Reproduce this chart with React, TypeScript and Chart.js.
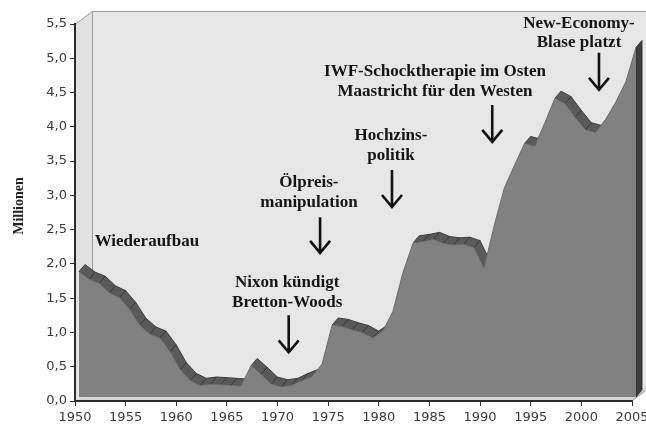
import { useEffect, useRef } from 'react';
import { Chart, registerables } from 'chart.js';

Chart.register(...registerables);

// ---- data ----
const years = [
  1950, 1951, 1952, 1953, 1954, 1955, 1956, 1957, 1958, 1959,
  1960, 1961, 1962, 1963, 1964, 1965, 1966, 1967, 1968, 1969,
  1970, 1971, 1972, 1973, 1974, 1975, 1976, 1977, 1978, 1979,
  1980, 1981, 1982, 1983, 1984, 1985, 1986, 1987, 1988, 1989,
  1990, 1991, 1992, 1993, 1994, 1995, 1996, 1997, 1998, 1999,
  2000, 2001, 2002, 2003, 2004, 2005,
];
const unemployedMillions = [
  1.83, 1.72, 1.66, 1.52, 1.45, 1.28, 1.05, 0.92, 0.86, 0.66,
  0.40, 0.24, 0.17, 0.19, 0.18, 0.17, 0.16, 0.46, 0.33, 0.19,
  0.15, 0.17, 0.24, 0.30, 0.48, 1.05, 1.03, 0.98, 0.94, 0.86,
  0.96, 1.25, 1.82, 2.25, 2.27, 2.30, 2.24, 2.22, 2.23, 2.18,
  1.88, 2.50, 3.05, 3.38, 3.70, 3.66, 4.00, 4.36, 4.28, 4.08,
  3.90, 3.86, 4.05, 4.30, 4.60, 5.10,
];
const xTickStep = 5;
const yTickStep = 0.5;
const yMax = 5.5;
const axisTitle = 'Millionen';

const annotationTexts = [
  ['Wiederaufbau'],
  ['Nixon kündigt', 'Bretton-Woods'],
  ['Ölpreis-', 'manipulation'],
  ['Hochzins-', 'politik'],
  ['IWF-Schocktherapie im Osten', 'Maastricht für den Westen'],
  ['New-Economy-', 'Blase platzt'],
];
// anchor (year, value) of first text line centre
const annotationAnchors = [
  [1957.1, 2.32],
  [1970.95, 1.72],
  [1973.1, 3.18],
  [1981.2, 3.87],
  [1985.55, 4.8],
  [1999.77, 5.51],
];
// arrows: year, from value, to value (null = no arrow)
const annotationArrows: (number[] | null)[] = [
  null,
  [1971.1, 1.25, 0.71],
  [1974.2, 2.68, 2.16],
  [1981.3, 3.37, 2.83],
  [1991.2, 4.32, 3.78],
  [2001.74, 5.08, 4.54],
];

// 3D geometry (pixels)
const WALL_DX = 17, WALL_DY = 13;
const SER_DX = 4, SER_DY = 4;
const RIB_DX = 6, RIB_DY = 7;

const threeDPlugin = {
  id: 'threeD',
  beforeDraw(chart: any) {
    const { ctx, chartArea } = chart;
    const { left, right, top, bottom } = chartArea;
    ctx.save();
    ctx.fillStyle = '#ffffff';
    ctx.fillRect(0, 0, chart.width, chart.height);
    // back wall
    ctx.fillStyle = '#e6e6e6';
    ctx.fillRect(left + WALL_DX, top - WALL_DY, right - left + 10, bottom - top);
    // side wall
    ctx.fillStyle = '#e1e1e1';
    ctx.beginPath();
    ctx.moveTo(left, top);
    ctx.lineTo(left + WALL_DX, top - WALL_DY);
    ctx.lineTo(left + WALL_DX, bottom - WALL_DY);
    ctx.lineTo(left, bottom);
    ctx.closePath();
    ctx.fill();
    // floor
    ctx.fillStyle = '#d4d4d4';
    ctx.beginPath();
    ctx.moveTo(left, bottom);
    ctx.lineTo(right, bottom);
    ctx.lineTo(right + WALL_DX, bottom - WALL_DY);
    ctx.lineTo(left + WALL_DX, bottom - WALL_DY);
    ctx.closePath();
    ctx.fill();
    // edges
    ctx.strokeStyle = '#9c9c9c';
    ctx.lineWidth = 1;
    ctx.beginPath();
    ctx.moveTo(left, top + 0.5);
    ctx.lineTo(left + WALL_DX + 0.5, top - WALL_DY + 0.5);
    ctx.lineTo(chart.width, top - WALL_DY + 0.5);
    ctx.moveTo(left + WALL_DX + 0.5, top - WALL_DY);
    ctx.lineTo(left + WALL_DX + 0.5, bottom - WALL_DY);
    ctx.moveTo(right, bottom);
    ctx.lineTo(right + WALL_DX, bottom - WALL_DY);
    ctx.stroke();
    ctx.restore();
  },
  beforeDatasetsDraw(chart: any) {
    const { ctx } = chart;
    const xs = chart.scales.x, ys = chart.scales.y;
    const pts = years.map((yr, i) => ({
      x: xs.getPixelForValue(yr) + SER_DX,
      y: ys.getPixelForValue(unemployedMillions[i]) - SER_DY,
    }));
    ctx.save();
    ctx.lineJoin = 'round';
    for (let i = 0; i < pts.length - 1; i++) {
      const a = pts[i], b = pts[i + 1];
      const dx = b.x - a.x, dy = b.y - a.y;
      const cross = dx * -RIB_DY - dy * RIB_DX;
      if (cross >= 0) continue;
      ctx.beginPath();
      ctx.moveTo(a.x, a.y);
      ctx.lineTo(b.x, b.y);
      ctx.lineTo(b.x + RIB_DX, b.y - RIB_DY);
      ctx.lineTo(a.x + RIB_DX, a.y - RIB_DY);
      ctx.closePath();
      ctx.fillStyle = '#5a5a5a';
      ctx.fill();
      ctx.strokeStyle = '#343434';
      ctx.lineWidth = 0.9;
      ctx.stroke();
    }
    // right end cap
    const last = pts[pts.length - 1];
    const base = ys.getPixelForValue(0) - SER_DY;
    ctx.beginPath();
    ctx.moveTo(last.x, last.y);
    ctx.lineTo(last.x + RIB_DX, last.y - RIB_DY);
    ctx.lineTo(last.x + RIB_DX, base - RIB_DY);
    ctx.lineTo(last.x, base);
    ctx.closePath();
    ctx.fillStyle = '#3e3e3e';
    ctx.fill();
    ctx.strokeStyle = '#2a2a2a';
    ctx.lineWidth = 0.8;
    ctx.stroke();
    ctx.restore();
    ctx.save();
    ctx.translate(SER_DX, -SER_DY);
  },
  afterDatasetsDraw(chart: any) {
    const { ctx } = chart;
    ctx.restore();
    const xs = chart.scales.x, ys = chart.scales.y;
    ctx.save();
    // axis title
    ctx.save();
    ctx.translate(19, 206);
    ctx.rotate(-Math.PI / 2);
    ctx.font = "bold 14px 'Liberation Serif'";
    ctx.fillStyle = '#222';
    ctx.textAlign = 'center';
    ctx.textBaseline = 'middle';
    ctx.fillText(axisTitle, 0, 0);
    ctx.restore();
    // annotations
    ctx.font = "bold 17px 'Liberation Serif'";
    ctx.fillStyle = '#141414';
    ctx.textAlign = 'center';
    ctx.textBaseline = 'middle';
    annotationTexts.forEach((lines, k) => {
      const [ax, ay] = annotationAnchors[k];
      const px = xs.getPixelForValue(ax);
      const py = ys.getPixelForValue(ay);
      lines.forEach((t, j) => ctx.fillText(t, px, py + j * 19.5));
      const arr = annotationArrows[k];
      if (arr) {
        const x = xs.getPixelForValue(arr[0]);
        const y1 = ys.getPixelForValue(arr[1]);
        const y2 = ys.getPixelForValue(arr[2]);
        ctx.strokeStyle = '#111';
        ctx.lineWidth = 2.6;
        ctx.lineJoin = 'miter';
        ctx.beginPath();
        ctx.moveTo(x, y1);
        ctx.lineTo(x, y2 - 1);
        ctx.moveTo(x - 10, y2 - 12);
        ctx.lineTo(x, y2);
        ctx.lineTo(x + 10, y2 - 12);
        ctx.stroke();
      }
    });
    ctx.restore();
  },
};

export default function App() {
  const canvasRef = useRef<HTMLCanvasElement | null>(null);

  useEffect(() => {
    document.body.style.margin = '0';
    const canvas = canvasRef.current;
    if (!canvas) return;
    const tickFont = { family: "'DejaVu Sans', sans-serif", size: 13 };
    const chart = new Chart(canvas, {
      type: 'line',
      data: {
        datasets: [
          {
            data: years.map((yr, i) => ({ x: yr, y: unemployedMillions[i] })),
            borderColor: '#6a6a6a',
            borderWidth: 1,
            backgroundColor: '#818181',
            fill: 'origin',
            pointRadius: 0,
            tension: 0,
            clip: false as any,
          },
        ],
      },
      options: {
        responsive: false,
        animation: false,
        devicePixelRatio: 1,
        layout: { padding: { left: 0, right: 14, top: 24, bottom: 0 } },
        plugins: {
          legend: { display: false },
          tooltip: { enabled: false },
          title: { display: false },
        },
        scales: {
          x: {
            type: 'linear',
            min: years[0],
            max: years[years.length - 1],
            ticks: {
              stepSize: xTickStep,
              autoSkip: false,
              maxRotation: 0,
              padding: 4,
              color: '#3a3a3a',
              font: tickFont,
              callback: (v: any) => String(v),
            },
            grid: { drawOnChartArea: false, drawTicks: true, tickLength: 5, color: '#333', lineWidth: 1 },
            border: { display: true, color: '#2b2b2b', width: 2 },
            afterFit: (s: any) => {
              s.height = 27;
              s.paddingLeft = 0;
              s.paddingRight = 0;
            },
          },
          y: {
            min: 0,
            max: yMax,
            ticks: {
              stepSize: yTickStep,
              padding: 3,
              color: '#3a3a3a',
              font: tickFont,
              callback: (v: any) => Number(v).toFixed(1).replace('.', ','),
            },
            grid: { drawOnChartArea: false, drawTicks: true, tickLength: 5, color: '#333', lineWidth: 1 },
            border: { display: true, color: '#2b2b2b', width: 2 },
            afterFit: (s: any) => {
              s.width = 75;
            },
          },
        },
      } as any,
      plugins: [threeDPlugin],
    });
    return () => chart.destroy();
  }, []);

  return (
    <div style={{ position: 'fixed', left: 0, top: 0, width: 646, height: 428, background: '#fff' }}>
      <canvas ref={canvasRef} width={646} height={428} style={{ display: 'block', width: 646, height: 428 }} />
    </div>
  );
}
